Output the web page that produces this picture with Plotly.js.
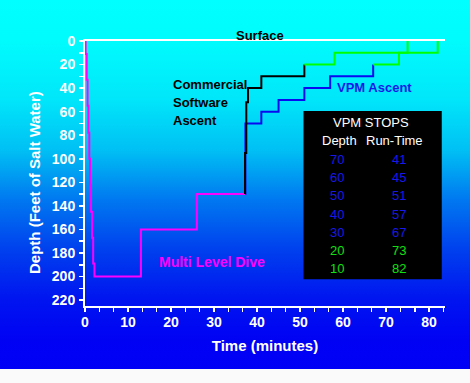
<!DOCTYPE html>
<html>
<head>
<meta charset="utf-8">
<script src="https://cdn.plot.ly/plotly-3.0.1.min.js"></script>
<style>
  html, body { margin: 0; padding: 0; background: #fafafa; }
  #chart {
    width: 470px; height: 383px;
    background: linear-gradient(to bottom,
      #00ffff 0px, #00fcfd 40px, #00e6fa 100px, #00c0f4 150px,
      #0078f0 200px, #0040ee 250px, #0014f0 300px, #0002f4 340px,
      #0000f6 369px, #fafafa 369px, #fafafa 383px);
  }
</style>
</head>
<body>
<div id="chart"></div>
<script>
// ---- data ----
const diveTime  = [0.15, 0.15, 0.4, 0.6, 0.8, 1.0, 1.2, 1.4, 1.65, 1.9, 2.2, 13, 26, 37.2];
const diveDepth = [0, 11, 33, 55, 78, 100, 122, 145, 167, 189, 200, 160, 130, 130];

const commTime  = [37.2, 37.2, 37.5, 37.9, 41, 51];
const commDepth = [130, 95, 52, 40, 30, 20];
const commShallowTime  = [51, 58, 75];
const commShallowDepth = [20, 10, 0];

const vpmTime  = [37.2, 37.3, 41, 45, 51, 57, 67];
const vpmDepth = [130, 70, 60, 50, 40, 30, 20];
const vpmShallowTime  = [67, 73, 82];
const vpmShallowDepth = [20, 10, 0];

const stopDepths   = [70, 60, 50, 40, 30, 20, 10];
const stopRunTimes = [41, 45, 51, 57, 67, 73, 82];

const xTickVals = [0, 10, 20, 30, 40, 50, 60, 70, 80];
const yTickVals = [0, 20, 40, 60, 80, 100, 120, 140, 160, 180, 200, 220];

// ---- styles ----
const FONT = 'Liberation Sans, Arial, sans-serif';
const BLUE = '#0a0af0';
const GREEN = '#00ff00';
const MAGENTA = '#ff00ff';
const TXT_BLUE = '#1818e8';
const TXT_GREEN = '#10e010';

const traces = [
  {x: diveTime, y: diveDepth, mode: 'lines', line: {shape: 'hv', color: MAGENTA, width: 2}, name: 'Multi Level Dive'},
  {x: vpmTime, y: vpmDepth, mode: 'lines', line: {shape: 'hv', color: BLUE, width: 2}, name: 'VPM Ascent'},
  {x: vpmShallowTime, y: vpmShallowDepth, mode: 'lines', line: {shape: 'hv', color: GREEN, width: 2}, name: 'VPM Ascent (shallow)'},
  {x: commTime, y: commDepth, mode: 'lines', line: {shape: 'hv', color: '#000000', width: 2}, name: 'Commercial Software Ascent'},
  {x: commShallowTime, y: commShallowDepth, mode: 'lines', line: {shape: 'hv', color: GREEN, width: 2}, name: 'Commercial (shallow)'}
];

function label(text, x, y, xanchor, size, color, bold) {
  const font = {family: FONT, size: size, color: color};
  if (bold) font.weight = 'bold';
  return {text: text, x: x, y: y, xanchor: xanchor, yanchor: 'middle', showarrow: false, font: font};
}

const surface = label('Surface', 40.7, 1 + (41 - 35) / 265, 'center', 13, '#000', true);
surface.yref = 'paper';

const annotations = [
  surface,
  label('Commercial', 20.0, 36.8, 'left', 13, '#000', true),
  label('Software', 20.0, 52.0, 'left', 13, '#000', true),
  label('Ascent', 20.0, 67.9, 'left', 13, '#000', true),
  label('VPM Ascent', 58.1, 39.6, 'left', 13, TXT_BLUE, true),
  label('Multi Level Dive', 16.8, 187.3, 'left', 14, MAGENTA, true),
  label('VPM STOPS', 66.4, 69.4, 'center', 13, '#fff', false),
  label('Depth', 59.1, 84.6, 'center', 13, '#fff', false),
  label('Run-Time', 72.0, 84.6, 'center', 13, '#fff', false),
  {text: 'Depth (Feet of Salt Water)', xref: 'paper', yref: 'paper', x: (34 - 85) / 360, y: 1 - (183 - 41) / 265,
   xanchor: 'center', yanchor: 'middle', textangle: -90, showarrow: false,
   font: {family: FONT, size: 15, color: '#fff', weight: 'bold'}}
];

const rowY0 = 100.4, rowStep = 15.53;
stopDepths.forEach((d, i) => {
  const col = d <= 20 ? TXT_GREEN : TXT_BLUE;
  const yy = rowY0 + i * rowStep;
  annotations.push(label(String(d), 58.6, yy, 'center', 13, col, false));
  annotations.push(label(String(stopRunTimes[i]), 73.0, yy, 'center', 13, col, false));
});

const layout = {
  width: 470, height: 383,
  margin: {l: 85, r: 25, t: 41, b: 77},
  paper_bgcolor: 'rgba(0,0,0,0)',
  plot_bgcolor: 'rgba(0,0,0,0)',
  showlegend: false,
  font: {family: FONT, color: '#fff'},
  xaxis: {
    range: [0, 83.7],
    showgrid: false, zeroline: false,
    showline: true, linecolor: '#fff', linewidth: 2, mirror: true,
    ticks: 'outside', ticklen: 4, tickwidth: 1.5, tickcolor: '#fff',
    tickvals: xTickVals, ticktext: xTickVals.map(String),
    tickfont: {family: FONT, size: 14, color: '#fff', weight: 'bold'},
    ticklabelstandoff: -2,
    minor: {dtick: 10 / 3, ticks: 'outside', ticklen: 4, tickwidth: 1.5, tickcolor: '#fff', showgrid: false},
    title: {text: 'Time (minutes)', font: {family: FONT, size: 15, color: '#fff', weight: 'bold'}, standoff: 12}
  },
  yaxis: {
    range: [225, 0],
    showgrid: false, zeroline: false,
    showline: true, linecolor: '#fff', linewidth: 2,
    ticks: 'outside', ticklen: 4, tickwidth: 1.5, tickcolor: '#fff',
    tickvals: yTickVals, ticktext: yTickVals.map(String),
    tickfont: {family: FONT, size: 14, color: '#fff', weight: 'bold'},
    ticklabelstandoff: 1,
    minor: {dtick: 10, ticks: 'outside', ticklen: 4, tickwidth: 1.5, tickcolor: '#fff', showgrid: false}
  },
  shapes: [
    {type: 'rect', xref: 'x', yref: 'y', x0: 50.8, x1: 82.95, y0: 59.4, y1: 202.3,
     fillcolor: '#000', line: {width: 0}, layer: 'below'}
  ],
  annotations: annotations
};

Plotly.newPlot('chart', traces, layout, {displayModeBar: false, staticPlot: true});
</script>
</body>
</html>
